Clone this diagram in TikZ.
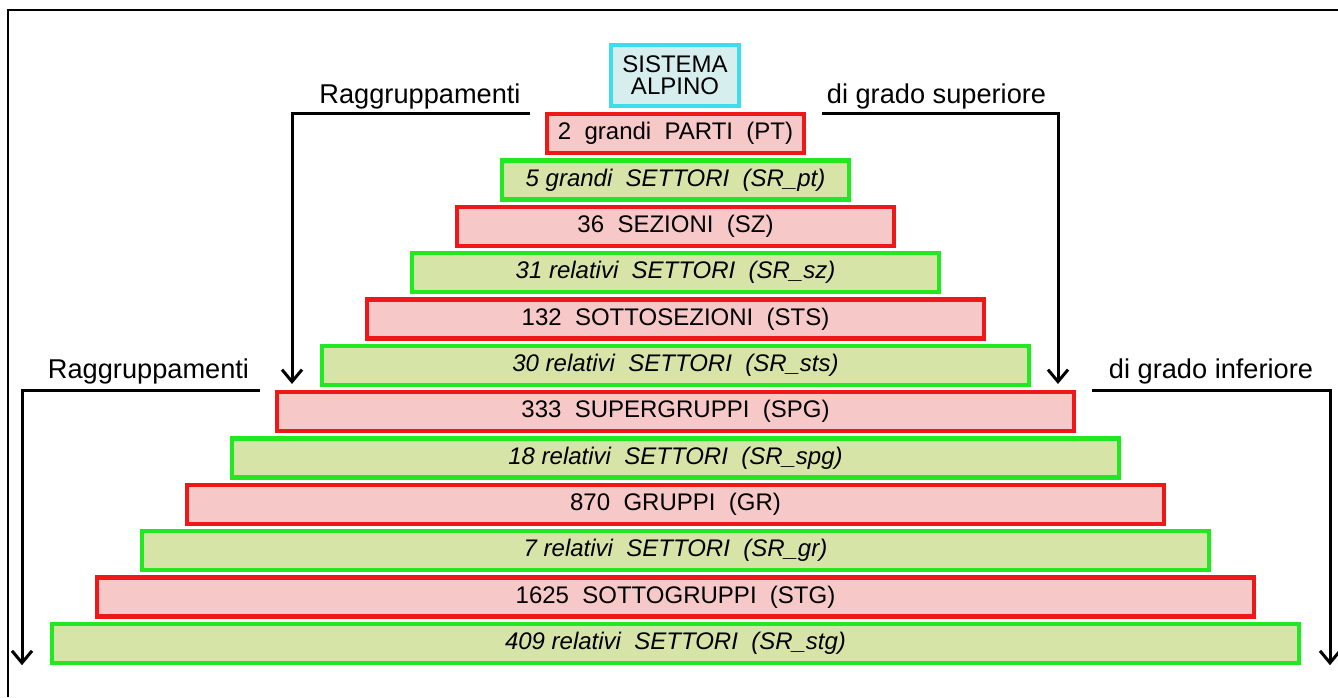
\documentclass[tikz,border=0pt]{standalone}
\usepackage{fontspec}
\setmainfont{Liberation Sans}
\usetikzlibrary{arrows.meta}
\definecolor{rowred}{RGB}{238,24,24}
\definecolor{rowpink}{RGB}{247,200,200}
\definecolor{rowgreen}{RGB}{34,232,34}
\definecolor{rowolive}{RGB}{214,228,168}
\definecolor{topcyan}{RGB}{60,222,236}
\definecolor{topfill}{RGB}{214,238,238}
\tikzset{
    level/.style={line width=2.2pt, inner sep=0pt, minimum height=19.5pt, text=black,
        font=\fontsize{12}{13}\selectfont},
    redrow/.style={level, draw=rowred, fill=rowpink},
    greenrow/.style={level, draw=rowgreen, fill=rowolive,
        font=\fontsize{12}{13}\selectfont\itshape},
    flow/.style={line width=1.5pt, -{Straight Barb[length=6pt,width=10pt]}},
    grouplabel/.style={anchor=base, font=\fontsize{13.6}{16}\selectfont}
}

\begin{document}
\begin{tikzpicture}[x=0.5pt,y=-0.5pt]
    \useasboundingbox (0,0) rectangle (1338,697);

    % Frame
    \draw[line width=1.1pt] (8,697) -- (8,10) -- (1338,10);

    % Top of the pyramid
    \node[draw=topcyan, fill=topfill, line width=2.2pt, inner sep=0pt,
        minimum width=64pt, minimum height=30.5pt, align=center, text=black,
        font=\fontsize{12}{11}\selectfont] (sistema) at (675,75.5) {SISTEMA\\ALPINO};

    % Levels
    \foreach \i/\name/\kind/\txt in {
        1/pt/redrow/{2~ grandi~ PARTI~ (PT)},
        2/srpt/greenrow/{5 grandi~ SETTORI~ (SR\_pt)},
        3/sz/redrow/{36~ SEZIONI~ (SZ)},
        4/srsz/greenrow/{31 relativi~ SETTORI~ (SR\_sz)},
        5/sts/redrow/{132~ SOTTOSEZIONI~ (STS)},
        6/srsts/greenrow/{30 relativi~ SETTORI~ (SR\_sts)},
        7/spg/redrow/{333~ SUPERGRUPPI~ (SPG)},
        8/srspg/greenrow/{18 relativi~ SETTORI~ (SR\_spg)},
        9/gr/redrow/{870~ GRUPPI~ (GR)},
        10/srgr/greenrow/{7 relativi~ SETTORI~ (SR\_gr)},
        11/stg/redrow/{1625~ SOTTOGRUPPI~ (STG)},
        12/srstg/greenrow/{409 relativi~ SETTORI~ (SR\_stg)}} {
        \node[\kind, minimum width={(257+90*(\i-1))*0.5pt}] (\name)
            at (675.5,{133.5+46.36*(\i-1)}) {\txt};
    }

    % Upper groupings
    \node[grouplabel] (upleft) at (420,103) {Raggruppamenti};
    \node[grouplabel] (upright) at (936.5,103) {di grado superiore};
    \coordinate (ulbar) at (530,113);
    \coordinate (ulturn) at (292,113);
    \coordinate (urbar) at (822,113);
    \coordinate (urturn) at (1058,113);
    \draw[flow] (ulbar) -- (ulturn) -- ([yshift=3pt]spg.north -| ulturn);
    \draw[flow] (urbar) -- (urturn) -- ([yshift=3pt]spg.north -| urturn);

    % Lower groupings
    \node[grouplabel] (lowleft) at (148.5,378) {Raggruppamenti};
    \node[grouplabel] (lowright) at (1211,378) {di grado inferiore};
    \coordinate (llbar) at (260,390);
    \coordinate (llturn) at (22,390);
    \coordinate (lrbar) at (1092,390);
    \coordinate (lrturn) at (1330,390);
    \draw[flow] (llbar) -- (llturn) -- (srstg.south -| llturn);
    \draw[flow] (lrbar) -- (lrturn) -- (srstg.south -| lrturn);
\end{tikzpicture}
\end{document}
